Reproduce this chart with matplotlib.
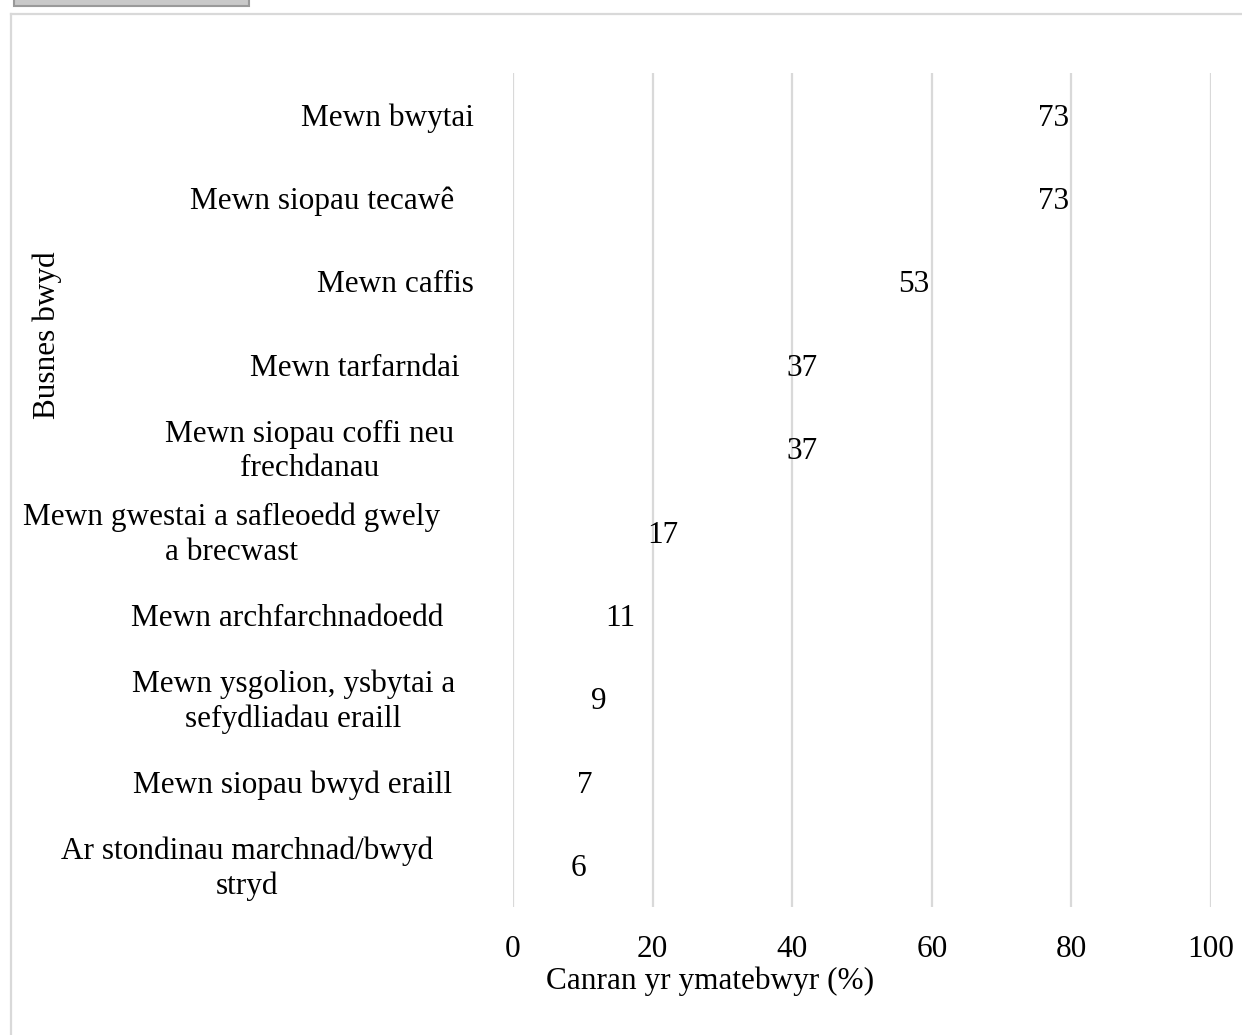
import matplotlib
matplotlib.use("Agg")
import matplotlib.pyplot as plt
from matplotlib.patches import Rectangle
from matplotlib.lines import Line2D
import matplotlib.transforms as mtransforms

# Food business types and share of respondents (%)
categories = [
    "Mewn bwytai",
    "Mewn siopau tecawê",
    "Mewn caffis",
    "Mewn tarfarndai",
    "Mewn siopau coffi neu\nfrechdanau",
    "Mewn gwestai a safleoedd gwely\na brecwast",
    "Mewn archfarchnadoedd",
    "Mewn ysgolion, ysbytai a\nsefydliadau eraill",
    "Mewn siopau bwyd eraill",
    "Ar stondinau marchnad/bwyd\nstryd",
]
values = [73, 73, 53, 37, 37, 17, 11, 9, 7, 6]
x_ticks = [0, 20, 40, 60, 80, 100]
x_title = "Canran yr ymatebwyr (%)"
y_title = "Busnes bwyd"

W, H, DPI = 1242, 1035, 100
plt.rcParams["font.family"] = ["Liberation Serif", "DejaVu Serif"]
FS = 22.5

fig = plt.figure(figsize=(W / DPI, H / DPI), dpi=DPI)
fig.patch.set_facecolor("white")

# chart frame and the small tab above it
fig.add_artist(Line2D([10.5 / W, 1.0], [1 - 13.5 / H, 1 - 13.5 / H],
                      transform=fig.transFigure, color="#d9d9d9", lw=1.6))
fig.add_artist(Line2D([10.5 / W, 10.5 / W], [1 - 13.5 / H, 0.0],
                      transform=fig.transFigure, color="#d9d9d9", lw=1.6))
fig.add_artist(Rectangle((13.5 / W, 1 - 5.5 / H), (249 - 13.5) / W, 10 / H,
                         transform=fig.transFigure, facecolor="#c9c9c9",
                         edgecolor="#9a9a9a", lw=1.5))

left, right, top, bottom = 513, 1211, 73, 907
ax = fig.add_axes([left / W, 1 - bottom / H, (right - left) / W, (bottom - top) / H])

y = list(range(len(categories)))
bars = ax.barh(y, values, height=0.6, color="none", edgecolor="none")
ax.set_xlim(0, 100)
ax.set_ylim(len(categories) - 0.5, -0.5)
ax.set_xticks(x_ticks)
ax.set_xticklabels([str(t) for t in x_ticks])
ax.xaxis.grid(True, color="#d9d9d9", lw=1.6)
ax.set_axisbelow(True)
for s in ax.spines.values():
    s.set_visible(False)
ax.tick_params(axis="both", length=0, labelsize=FS, colors="black")
ax.tick_params(axis="x", pad=20)

# value labels just beyond the end of each bar
for bar, v in zip(bars, values):
    ax.annotate(str(v), xy=(bar.get_width(), bar.get_y() + bar.get_height() / 2),
                xytext=(11, -2.5), textcoords="offset points",
                ha="left", va="center", fontsize=FS)

# category labels, wrapped and centred line by line
ax.set_yticks(y)
ax.set_yticklabels(categories, fontsize=FS, ha="right", multialignment="center",
                   linespacing=1.25)
ax.tick_params(axis="y", pad=28)
label_shift = [0, -20, 0, -14, -20, -34, -31, -19, -22, -41]
for lab, dx in zip(ax.get_yticklabels(), label_shift):
    dy = 3 if "\n" in lab.get_text() else 0
    lab.set_transform(lab.get_transform() +
                      mtransforms.ScaledTranslation(dx / DPI, dy / DPI, fig.dpi_scale_trans))

fig.text(710 / W, 1 - 981 / H, x_title, ha="center", va="center", fontsize=FS)
fig.text(47 / W, 1 - 335 / H, y_title, ha="center", va="center",
         rotation=90, fontsize=FS)

fig.savefig("out.png", dpi=DPI)
